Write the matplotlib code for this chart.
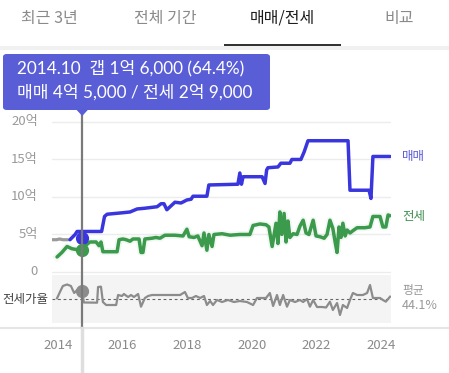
import matplotlib
matplotlib.use('Agg')
import matplotlib.pyplot as plt
from matplotlib.patches import Rectangle, FancyBboxPatch, Polygon
from matplotlib.lines import Line2D
import matplotlib.transforms as mtransforms

# ---------------- data ----------------
tabs = ['최근 3년', '전체 기간', '매매/전세', '비교']
active_tab = '매매/전세'
year_ticks = [2014, 2016, 2018, 2020, 2022, 2024]
price_ticks = [0, 5, 10, 15, 20]
price_tick_labels = ['0', '5억', '10억', '15억', '20억']

# 매매 (sale price, 억)
sale_t = [2014.37, 2014.53, 2014.59, 2015.35, 2015.44, 2015.52, 2016.01, 2016.23,
          2016.45, 2016.69, 2017.07, 2017.19, 2017.28, 2017.37, 2017.47, 2017.62,
          2017.81, 2017.99, 2018.12, 2018.18, 2018.61, 2018.67, 2019.57, 2019.63,
          2019.68, 2019.73, 2020.32, 2020.41, 2020.46, 2020.50, 2020.81, 2020.90,
          2021.18, 2021.24, 2021.52, 2021.62, 2021.74, 2022.98, 2023.04, 2023.63,
          2023.69, 2023.75, 2024.28]
sale_v = [4.3, 5.0, 5.4, 5.4, 7.4, 7.7, 7.9, 8.0,
          8.4, 8.5, 8.7, 9.1, 9.1, 8.3, 8.7, 9.3,
          9.2, 9.6, 9.7, 10.1, 10.1, 11.6, 11.7, 13.2,
          11.7, 12.7, 12.7, 11.8, 13.6, 13.9, 14.0, 14.5,
          14.5, 15.0, 15.0, 16.0, 17.5, 17.5, 10.9, 10.9,
          9.8, 15.4, 15.4]

# 전세 (jeonse price, 억)
jeonse_t = [2013.97, 2014.12, 2014.28, 2014.43, 2014.56, 2014.75, 2014.87, 2014.99,
            2015.18, 2015.27, 2015.33, 2015.39, 2015.83, 2015.89, 2016.01, 2016.11,
            2016.23, 2016.32, 2016.51, 2016.57, 2016.63, 2016.69, 2016.91, 2017.03,
            2017.16, 2017.31, 2017.62, 2017.87, 2017.99, 2018.06, 2018.21, 2018.33,
            2018.46, 2018.52, 2018.61, 2018.67, 2018.77, 2018.83, 2019.08, 2019.33,
            2019.63, 2019.94, 2020.04, 2020.25, 2020.44, 2020.53, 2020.63, 2020.75,
            2020.81, 2020.87, 2020.93, 2021.00, 2021.06, 2021.12, 2021.18, 2021.28,
            2021.40, 2021.49, 2021.59, 2021.68, 2021.77, 2021.90, 2021.99, 2022.11,
            2022.24, 2022.33, 2022.42, 2022.51, 2022.58, 2022.64, 2022.70, 2022.76,
            2022.82, 2022.89, 2022.95, 2023.04, 2023.13, 2023.26, 2023.50, 2023.66,
            2023.75, 2023.97, 2024.06, 2024.15, 2024.22, 2024.28]
jeonse_v = [2.0, 2.6, 3.4, 3.1, 3.0, 2.9, 3.6, 4.0,
            4.0, 3.5, 4.0, 2.7, 2.7, 4.3, 4.4, 4.3,
            4.1, 4.4, 4.4, 2.6, 2.6, 4.4, 4.5, 4.6,
            4.5, 4.9, 4.9, 4.8, 5.7, 4.7, 4.6, 4.8,
            3.5, 5.2, 2.9, 5.0, 3.4, 5.0, 5.1, 4.9,
            5.0, 5.0, 6.2, 6.4, 6.3, 6.0, 3.4, 6.5,
            3.8, 8.0, 5.0, 7.8, 4.0, 6.8, 4.6, 5.1,
            5.0, 6.1, 6.9, 5.2, 5.0, 6.9, 4.8, 4.7,
            4.5, 5.0, 6.9, 5.8, 4.0, 2.6, 6.0, 4.6,
            6.5, 4.8, 5.6, 5.2, 5.5, 5.9, 5.9, 6.0,
            7.4, 7.4, 6.0, 6.0, 7.6, 7.5]

# earlier (grey) segment before the sale series
prev_t = [2013.81, 2013.95, 2014.05, 2014.15, 2014.30]
prev_v = [4.3, 4.3, 4.4, 4.3, 4.3]

# 전세가율 (%)
ratio_t = [2013.97, 2014.06, 2014.15, 2014.28, 2014.40, 2014.50, 2014.59, 2014.75,
           2014.80, 2015.21, 2015.24, 2015.33, 2015.39, 2015.49, 2015.80, 2015.86,
           2015.98, 2016.04, 2016.17, 2016.26, 2016.35, 2016.48, 2016.57, 2016.69,
           2016.79, 2016.91, 2017.16, 2017.47, 2017.78, 2017.93, 2018.02, 2018.15,
           2018.27, 2018.40, 2018.52, 2018.61, 2018.71, 2018.80, 2018.92, 2019.08,
           2019.26, 2019.45, 2019.63, 2019.85, 2020.04, 2020.16, 2020.32, 2020.44,
           2020.56, 2020.66, 2020.78, 2020.87, 2020.97, 2021.09, 2021.18, 2021.34,
           2021.49, 2021.59, 2021.71, 2021.80, 2021.90, 2022.02, 2022.17, 2022.30,
           2022.42, 2022.51, 2022.64, 2022.73, 2022.82, 2022.95, 2023.04, 2023.13,
           2023.26, 2023.44, 2023.57, 2023.66, 2023.75, 2023.97, 2024.06, 2024.15,
           2024.28]
ratio_v = [45.9, 61.6, 76.6, 80.4, 76.6, 59.1, 66.6, 64.4,
           35.4, 34.9, 74.1, 74.9, 36.6, 29.1, 29.1, 54.1,
           51.6, 56.6, 49.1, 54.1, 49.1, 56.6, 24.9, 46.6,
           51.6, 54.1, 54.1, 54.1, 54.1, 61.6, 46.6, 46.6,
           51.6, 46.6, 51.6, 29.1, 39.1, 29.1, 41.6, 36.6,
           41.6, 36.6, 39.1, 36.6, 29.1, 46.6, 46.6, 46.6,
           59.1, 26.6, 54.1, 29.1, 54.1, 24.9, 41.6, 36.6,
           41.6, 36.6, 44.1, 24.9, 41.6, 24.1, 24.1, 22.9,
           37.4, 16.6, 34.1, 4.1, 29.1, 21.6, 41.6, 59.1,
           54.1, 54.1, 59.1, 79.1, 46.6, 46.6, 41.6, 37.4,
           49.9]
ratio_avg = 44.1

sel_date = 2014.75
sel_label = '2014.10'
sel_sale = 4.5
sel_jeonse = 2.9
sel_gap = 1.6
sel_ratio = 64.4

# ---------------- style ----------------
W, H = 449, 373
KR = ['Noto Sans CJK KR', 'DejaVu Sans']
LATO = ['Lato', 'Noto Sans CJK KR', 'DejaVu Sans']
plt.rcParams['font.family'] = KR

BLUE = '#3a36de'
GREEN = '#3b9a4c'
GREY = '#8c8c8c'
TIP = '#5a5ed6'


def fx(x):
    return x / W


def fy(y):
    return 1 - y / H


def eok(v):
    e = int(v)
    m = int(round((v - e) * 10000))
    return f'{e}억 {m:,}' if m else f'{e}억'


fig = plt.figure(figsize=(W / 100, H / 100), dpi=100)
fig.patch.set_facecolor('white')

# ---------- tabs ----------
tab_x = [49, 165, 282, 399]
for name, x in zip(tabs, tab_x):
    active = name == active_tab
    fig.text(fx(x), fy(18), name, ha='center', va='center', fontsize=11.5,
             color='#1e1e1e' if active else '#8a8a8a',
             fontweight='medium' if active else 'normal')
fig.add_artist(Rectangle((0, fy(50)), 1, (50 - 46) / H, transform=fig.transFigure,
                         facecolor='#f1f1f1', edgecolor='none'))
fig.add_artist(Rectangle((fx(224), fy(46)), (341 - 224) / W, 2.5 / H,
                         transform=fig.transFigure, facecolor='#333333', edgecolor='none'))

# ---------- main axes ----------
xlim = (2013.814, 2024.31)
ax = fig.add_axes([fx(52), fy(274), (391 - 52) / W, (274 - 118) / H])
ax.set_xlim(*xlim)
ax.set_ylim(-0.27, 20.53)
for s in ax.spines.values():
    s.set_visible(False)
ax.set_xticks([])
ax.set_yticks([])
for t in price_ticks:
    ax.axhline(t, color='#ececec', lw=1.0, zorder=0)
for t, lab in zip(price_ticks, price_tick_labels):
    ax.text(-0.042, t, lab, transform=ax.get_yaxis_transform(), ha='right', va='center',
            fontsize=9.5, color='#9a9a9a')

ax.plot(jeonse_t, jeonse_v, color=GREEN, lw=5, alpha=0.07, solid_joinstyle='round', zorder=1)
ax.plot(prev_t, prev_v, color='#9a9a9a', lw=2.3, zorder=2, solid_capstyle='round')
ax.plot(jeonse_t, jeonse_v, color=GREEN, lw=2.5, zorder=3, solid_joinstyle='round',
        solid_capstyle='round')
ax.plot(sale_t, sale_v, color=BLUE, lw=2.5, zorder=4, solid_joinstyle='round',
        solid_capstyle='round')
ax.plot([sel_date], [sel_sale], 'o', color=BLUE, ms=8.5, zorder=6)
ax.plot([sel_date], [sel_jeonse], 'o', color=GREEN, ms=8.5, zorder=6)

ax.text(1.033, sale_v[-1], '매매', transform=ax.get_yaxis_transform(), ha='left',
        va='center', fontsize=9, color='#5b5bd8')
ax.text(1.033, 7.4, '전세', transform=ax.get_yaxis_transform(), ha='left',
        va='center', fontsize=9, color='#3f8f4f')

# ---------- ratio axes ----------
axr = fig.add_axes([fx(52), fy(323), (391 - 52) / W, (323 - 275) / H])
axr.set_xlim(*xlim)
axr.set_ylim(-15.9, 104.1)
axr.set_facecolor('#f4f4f4')
for s in axr.spines.values():
    s.set_visible(False)
axr.set_xticks([])
axr.set_yticks([])
axr.axhline(ratio_avg, color='#666666', lw=0.8, ls=(0, (2.5, 2.5)), zorder=1)
axr.plot(ratio_t, ratio_v, color=GREY, lw=1.6, zorder=2, solid_joinstyle='round')
axr.plot([sel_date], [sel_ratio], 'o', color=GREY, ms=8.5, zorder=5)
axr.text(-0.012, ratio_avg, '전세가율', transform=axr.get_yaxis_transform(), ha='right',
         va='center', fontsize=9, color='#444444')
axr.text(1.033, ratio_avg + 22, '평균', transform=axr.get_yaxis_transform(), ha='left',
         va='center', fontsize=8.5, color='#999999')
axr.text(1.033, ratio_avg - 16, f'{ratio_avg}%', transform=axr.get_yaxis_transform(),
         ha='left', va='center', fontsize=9, color='#999999')

# bottom axis line + year labels
fig.add_artist(Line2D([0, 1], [fy(327.5), fy(327.5)], transform=fig.transFigure,
                      color='#e6e6e6', lw=1.5))
bt = mtransforms.blended_transform_factory(ax.transData, fig.transFigure)
for yr in year_ticks:
    fig.text(yr, fy(345.5), str(yr), transform=bt, ha='center', va='center', fontsize=9.5,
             color='#8a8a8a')

# crosshair
fig.add_artist(Line2D([sel_date, sel_date], [fy(112), fy(327)], transform=bt,
                      color='#7a7a7a', lw=1.6, zorder=3))
fig.add_artist(Line2D([sel_date, sel_date], [fy(328), fy(373)], transform=bt,
                      color='#dedede', lw=2.5, zorder=3))

# tooltip
fig.add_artist(FancyBboxPatch((fx(3), fy(110)), (270 - 3) / W, (110 - 54) / H,
                              boxstyle='round,pad=0,rounding_size=0.008',
                              transform=fig.transFigure, facecolor=TIP, edgecolor='none',
                              zorder=10))
tipx = ax.transData.transform((sel_date, 0))[0] / fig.dpi / fig.get_figwidth()
fig.add_artist(Polygon([(tipx - 6 / W, fy(109.5)), (tipx + 6 / W, fy(109.5)), (tipx, fy(116))],
                       closed=True, transform=fig.transFigure, facecolor=TIP,
                       edgecolor='none', zorder=10))
line1 = f'{sel_label}  갭 {eok(sel_gap)} ({sel_ratio}%)'
line2 = f'매매 {eok(sel_sale)} / 전세 {eok(sel_jeonse)}'
fig.text(fx(17), fy(68), line1, ha='left', va='center', fontsize=12.3, color='white',
         family=LATO, zorder=11)
fig.text(fx(17), fy(92), line2, ha='left', va='center', fontsize=12.3, color='white',
         family=LATO, zorder=11)

fig.savefig('out.png', dpi=100, facecolor='white')
